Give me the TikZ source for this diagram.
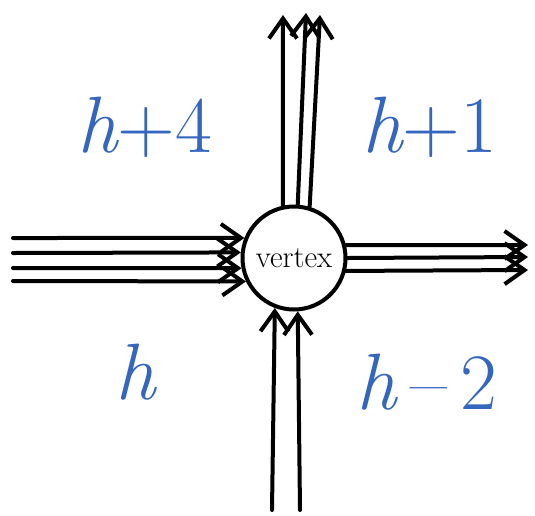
\documentclass[tikz,border=0pt]{standalone}
\usepackage{fontspec}
\usetikzlibrary{arrows.meta}
\definecolor{heightblue}{RGB}{52,102,190}

\begin{document}
\begin{tikzpicture}[
  x=1pt,
  y=-1pt,
  flow/.style={
    draw=black,
    line width=4pt,
    line cap=round,
    line join=round
  },
  flow arrow/.style={
    flow,
    -{Straight Barb[length=20pt,width=28pt]}
  },
  vertex node/.style={
    circle,
    draw=black,
    line width=4pt,
    minimum size=103pt,
    inner sep=0pt,
    fill=white,
    font=\fontsize{31}{34}\selectfont
  },
  height label/.style={
    text=heightblue,
    inner sep=0pt,
    font=\fontsize{80}{90}\selectfont
  }
]

\useasboundingbox (0,0) rectangle (535,515);

\node[vertex node] (vertex) at (294,258) {vertex};

% Free ends of the edges around the vertex.
\foreach \name/\xpos/\ypos in {
  in1/13/238, in2/13/253, in3/13/268, in4/13/281,
  out1/528/245, out2/528/257, out3/528/270,
  up1/283/15, up2/306/13, up3/320/15,
  low1/272/510, low2/300/510
}{
  \coordinate (\name) at (\xpos,\ypos);
}

% Incoming edges: four from the left, two from below.
\foreach \name/\ang in {in1/158, in2/174, in3/191, in4/206, low1/249, low2/274}{
  \draw[flow arrow] (\name) -- (vertex.\ang);
}

% Outgoing edges: three to the right, three upwards.
\foreach \name/\ang in {out1/14, out2/0, out3/346, up1/102, up2/86, up3/73}{
  \draw[flow arrow] (vertex.\ang) -- (\name);
}

% Heights of the four faces.
\node[height label] (label-nw) at (145,127) {\itshape h\upshape +4};
\node[height label] (label-ne) at (430,127) {\itshape h\upshape +1};
\node[height label] (label-sw) at (135,372) {\itshape h};
\node[height label] (label-se) at (427,382) {\itshape h\upshape \,–\,2};

\end{tikzpicture}
\end{document}
